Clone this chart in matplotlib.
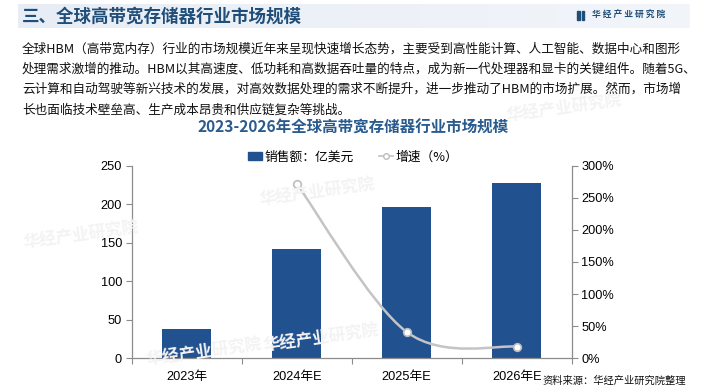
import matplotlib
matplotlib.use("Agg")
import matplotlib.pyplot as plt
import numpy as np
from matplotlib.path import Path
from matplotlib.patches import PathPatch, Rectangle
from matplotlib.lines import Line2D
from matplotlib.colors import LinearSegmentedColormap

plt.rcParams['font.family'] = ['Liberation Sans', 'Noto Sans CJK SC', 'DejaVu Sans']

categories = ["2023年", "2024年E", "2025年E", "2026年E"]
sales = [38, 142, 196, 227]          # 销售额：亿美元
growth_cats = [1, 2, 3]               # index of categories with growth values
growth = [272, 41, 18]                # 增速（%）
left_ticks = [0, 50, 100, 150, 200, 250]
right_ticks = [0, 50, 100, 150, 200, 250, 300]

W, H = 705, 392
fig = plt.figure(figsize=(W / 100, H / 100), dpi=100)
fig.patch.set_facecolor('white')

def fx(x):
    return x / W

def fy(y):
    return 1 - y / H

CJK = ['Noto Sans CJK SC', 'DejaVu Sans']
BLUE = '#21518f'
TITLE_BLUE = '#1f4e79'

# Header band
band = fig.add_axes([fx(18), fy(28), fx(690) - fx(18), fy(4) - fy(28)])
grad = np.linspace(0, 1, 256).reshape(1, -1)
cm = LinearSegmentedColormap.from_list('b', ['#e8edf5', '#f2f5fa'])
band.imshow(grad, aspect='auto', cmap=cm, extent=[0, 1, 0, 1])
band.axis('off')

fig.text(fx(22), fy(17), "三、全球高带宽存储器行业市场规模", family=CJK, fontsize=12.6,
         fontweight='bold', color=TITLE_BLUE, ha='left', va='center')
# logo
fig.patches.append(Rectangle((fx(577), fy(20)), fx(3), fy(11) - fy(20), transform=fig.transFigure,
                             color=TITLE_BLUE))
fig.patches.append(Rectangle((fx(581.5), fy(20)), fx(2.5), fy(11) - fy(20), transform=fig.transFigure,
                             color=TITLE_BLUE))
fig.text(fx(592), fy(15.5), "华 经 产 业 研 究 院", family=CJK, fontsize=6.3, fontweight='bold',
         color=TITLE_BLUE, ha='left', va='center')

# watermarks
wm_color = '#f3f3f3'
for (x, y) in [(22, 235), (258, 192), (262, 338), (145, 352), (505, 108)]:
    fig.text(fx(x), fy(y), "华经产业研究院", family=CJK, fontsize=12, fontweight='bold',
             color=wm_color, rotation=8, ha='left', va='center', zorder=0)

# Paragraph
para = ["全球HBM（高带宽内存）行业的市场规模近年来呈现快速增长态势，主要受到高性能计算、人工智能、数据中心和图形",
        "处理需求激增的推动。HBM以其高速度、低功耗和高数据吞吐量的特点，成为新一代处理器和显卡的关键组件。随着5G、",
        "云计算和自动驾驶等新兴技术的发展，对高效数据处理的需求不断提升，进一步推动了HBM的市场扩展。然而，市场增",
        "长也面临技术壁垒高、生产成本昂贵和供应链复杂等挑战。"]
for i, line in enumerate(para):
    fig.text(fx(22), fy(49 + i * 20.3), line, family=CJK, fontsize=9.1, color='#111111',
             ha='left', va='center')

# Chart title
fig.text(fx(353), fy(128), "2023-2026年全球高带宽存储器行业市场规模", family=CJK, fontsize=11.2,
         fontweight='bold', color='#2a5b8e', ha='center', va='center')

# Axes
ax = fig.add_axes([fx(131.7), fy(358.3), fx(571.7) - fx(131.7), fy(165.7) - fy(358.3)])
ax.patch.set_alpha(0)
x = np.arange(len(categories))
ax.bar(x, sales, width=0.445, color=BLUE, zorder=2)
ax.set_xlim(-0.5, len(categories) - 0.5)
ax.set_ylim(0, 250)
ax.set_yticks(left_ticks)
ax.set_xticks(np.arange(-0.5, len(categories), 1.0))
ax.set_xticklabels([])
ax.set_xticks(x, minor=True)
ax.set_xticklabels(categories, minor=True, fontsize=9.2)
ax.tick_params(axis='x', which='minor', length=0, pad=9)
ax.tick_params(axis='x', which='major', length=4, color='#8c8c8c', direction='out')
ax.tick_params(axis='y', length=4, color='#8c8c8c', labelsize=9.2, pad=3)
for s in ['top', 'right']:
    ax.spines[s].set_visible(False)
for s in ['left', 'bottom']:
    ax.spines[s].set_color('#8c8c8c')
    ax.spines[s].set_linewidth(0.9)

ax2 = ax.twinx()
ax2.set_ylim(0, 300)
ax2.set_yticks(right_ticks)
ax2.set_yticklabels([f"{t}%" for t in right_ticks])
ax2.tick_params(axis='y', length=4, color='#8c8c8c', labelsize=9.2, pad=3)
for s in ['top', 'left', 'bottom']:
    ax2.spines[s].set_visible(False)
ax2.spines['right'].set_color('#8c8c8c')
ax2.spines['right'].set_linewidth(0.9)

# smooth growth line (Bezier through the data points)
pts = np.column_stack([np.array(growth_cats, dtype=float), np.array(growth, dtype=float)])
ext = np.vstack([pts[0], pts, pts[-1]])
verts = [tuple(pts[0])]
codes = [Path.MOVETO]
for i in range(len(pts) - 1):
    p0, p1, p2, p3 = ext[i], ext[i + 1], ext[i + 2], ext[i + 3]
    c1 = p1 + (p2 - p0) / 6
    c2 = p2 - (p3 - p1) / 6
    verts += [tuple(c1), tuple(c2), tuple(p2)]
    codes += [Path.CURVE4] * 3
ax2.add_patch(PathPatch(Path(verts, codes), facecolor='none', edgecolor='#c4c4c4', lw=1.8, zorder=3))
ax2.plot(growth_cats, growth, linestyle='none', marker='o', markersize=5.5,
         markerfacecolor='white', markeredgecolor='#bdbdbd', markeredgewidth=1.2, zorder=4)

# Legend
h1 = Rectangle((0, 0), 1, 0.5, color=BLUE)
h2 = Line2D([], [], color='#c4c4c4', lw=1.2, marker='o', markersize=4,
            markerfacecolor='white', markeredgecolor='#bdbdbd')
leg = fig.legend([h1, h2], ["销售额：亿美元", "增速（%）"], loc='center',
                 bbox_to_anchor=(fx(353.5), fy(157)), ncol=2, frameon=False,
                 prop={'family': CJK, 'size': 9.2}, handlelength=1.1, handletextpad=0.2,
                 columnspacing=1.95, handleheight=0.5)

# Source
fig.text(fx(686), fy(380.5), "资料来源：华经产业研究院整理", family=CJK, fontsize=7.4,
         color='#111111', ha='right', va='center')

fig.savefig("out.png", dpi=100, facecolor='white')
